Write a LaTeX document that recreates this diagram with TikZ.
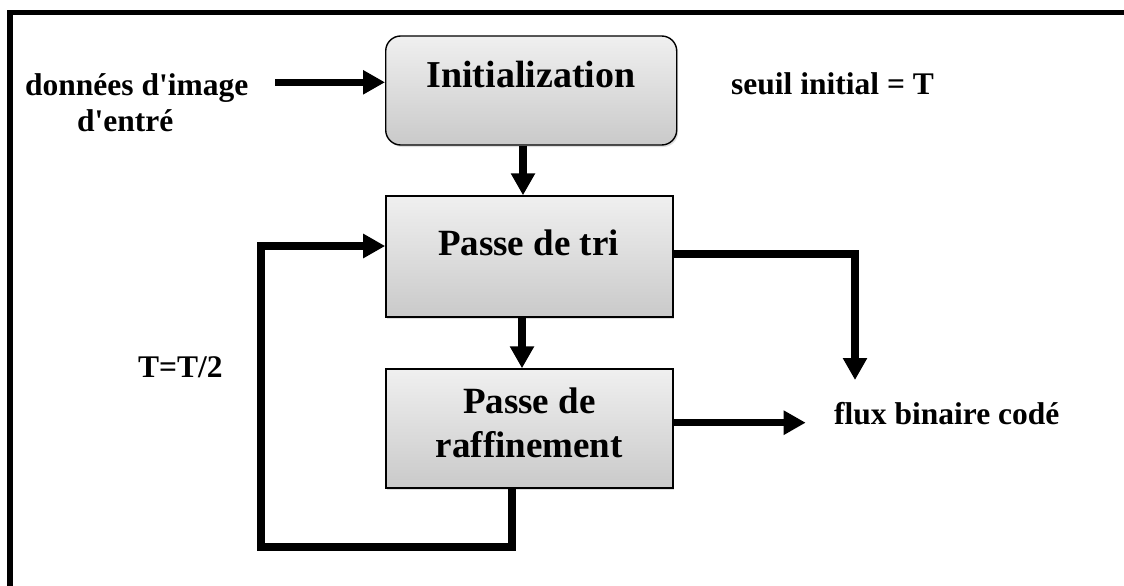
\documentclass[tikz,border=0pt]{standalone}
\usepackage{fontspec}
\setmainfont{Liberation Serif}[Ligatures=TeXOff]
\usetikzlibrary{arrows.meta,shadows,calc}
\begin{document}
\begin{tikzpicture}[x=1pt,y=-1pt,
  boxbase/.style={draw=black,line width=1.4pt,top color=gray!12,bottom color=gray!42,
    drop shadow={opacity=0.25,shadow xshift=1.5pt,shadow yshift=-2pt},inner sep=0pt},
  roundbox/.style={boxbase,rounded corners=15pt},
  boxtext/.style={font=\fontsize{37}{44}\selectfont\bfseries,inner sep=0pt,align=center},
  lbl/.style={font=\fontsize{31.5}{36.7}\selectfont\bfseries,inner sep=0pt},
  flow/.style={line width=7.5pt,-{Triangle[length=22pt,width=23pt]}},
]
\useasboundingbox (0,0) rectangle (1124,586);
\fill[white] (0,0) rectangle (1124,586);
% frame
\draw[line width=5.3pt] (10,586) -- (10,12.3) -- (1124,12.3);

% boxes
\node[roundbox,minimum width=291pt,minimum height=109pt] (init) at (531.2,90.5) {};
\node[boxbase,minimum width=287pt,minimum height=121pt] (tri) at (529.4,256.5) {};
\node[boxbase,minimum width=287pt,minimum height=119pt] (raff) at (529.4,428.5) {};

\node[boxtext,font=\fontsize{38}{44}\selectfont\bfseries,anchor=base] (initt) at (531,88) {Initialization};
\node[boxtext,anchor=base] (trit) at (528.5,255) {Passe de tri};
\node[boxtext] (rafft) at (529.3,422.4) {Passe de\\raffinement};

% labels
\node[lbl,align=left,anchor=base west] (inp) at (25,131.7) {données d'image\\\hspace*{52pt}d'entré};
\node[lbl,anchor=base west] (seuil) at (731,95) {seuil initial = T};
\node[lbl,anchor=base west] (tt) at (138,377) {T=T/2};
\node[lbl,anchor=base west] (flux) at (834,424) {flux binaire codé};

% coordinates
\coordinate (inS) at (275,82.3);
\coordinate (xa) at (523,0);
\coordinate (xb) at (522,0);
\coordinate (xc) at (512,0);
\coordinate (lp1) at (512,547);
\coordinate (lp2) at (261,547);
\coordinate (lp3) at (261,246);
\coordinate (rp1) at (855,254);
\coordinate (rp2) at (855,380);
\coordinate (fx) at (805.7,422.7);

% connectors
\draw[flow] (inS) -- (inS -| init.west);
\draw[flow] (init.south -| xa) -- (tri.north -| xa);
\draw[flow] (tri.south -| xb) -- (raff.north -| xb);
\draw[flow] (raff.south -| xc) -- (lp1) -- (lp2) -- (lp3) -- (lp3 -| tri.west);
\draw[flow] (rp1 -| tri.east) -- (rp1) -- (rp2);
\draw[flow] (fx -| raff.east) -- (fx);
\end{tikzpicture}
\end{document}
